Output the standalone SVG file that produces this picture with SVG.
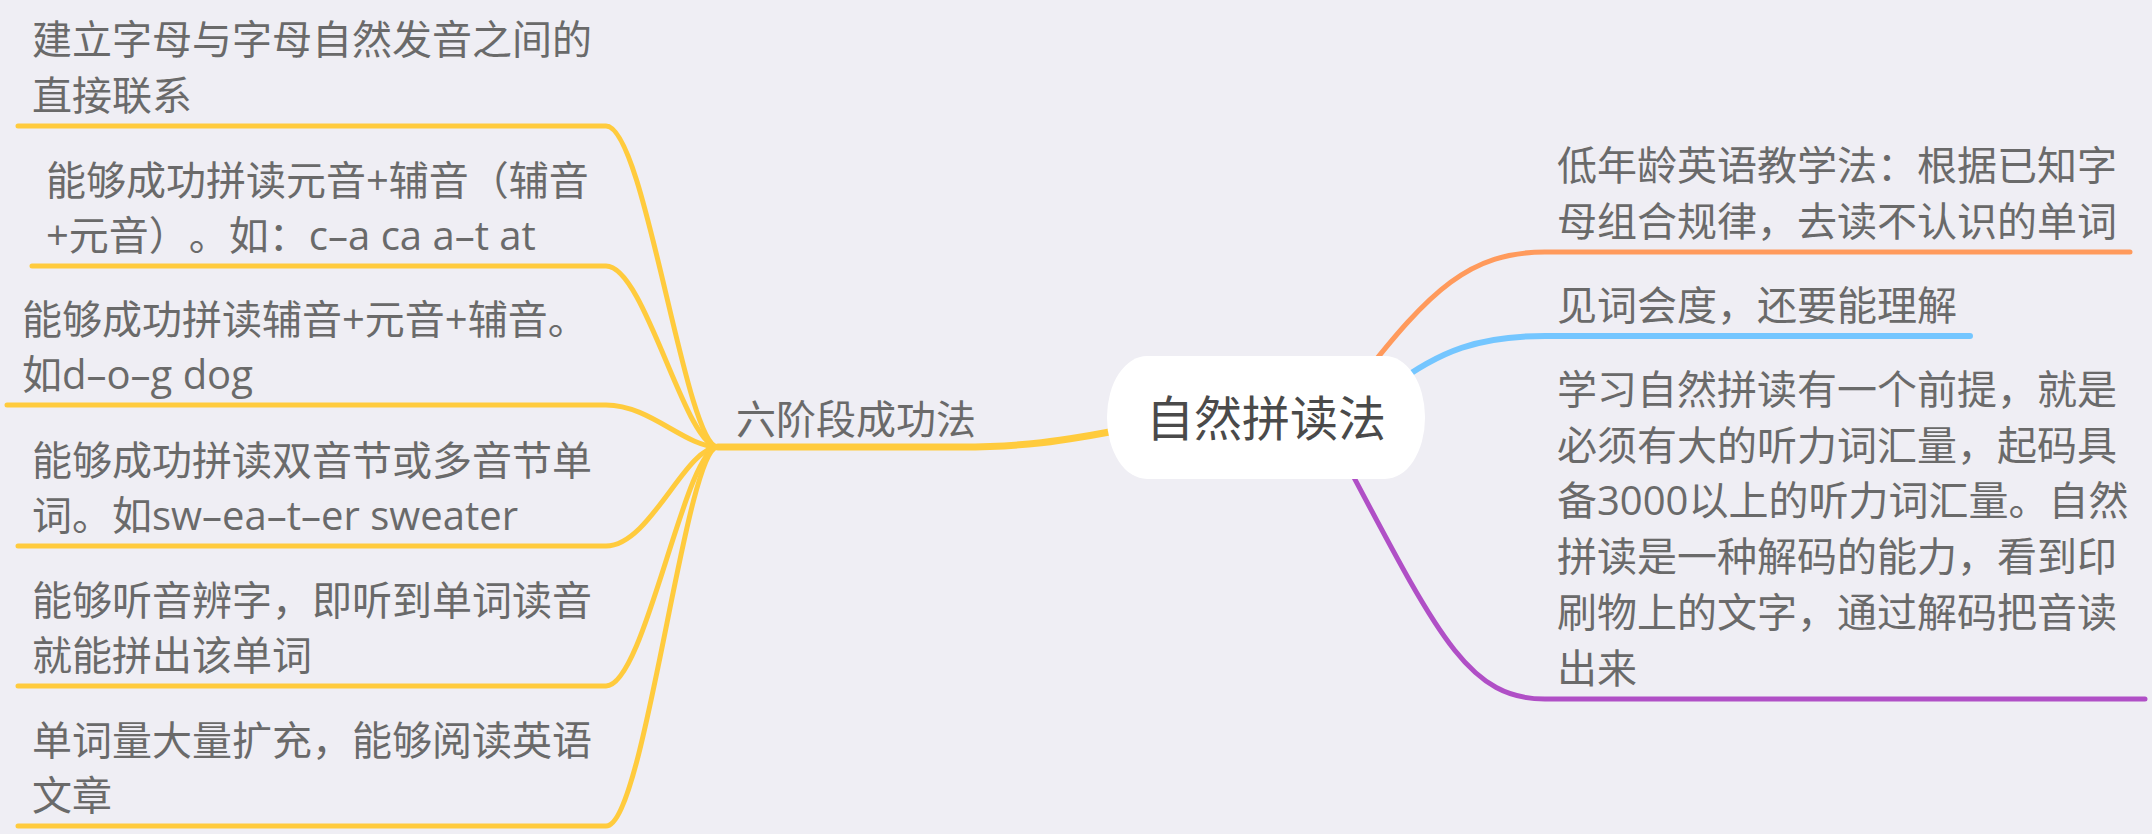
<svg xmlns="http://www.w3.org/2000/svg" width="2152" height="834" viewBox="0 0 2152 834">
<style>
.t{font-family:"Open Sans","Noto Sans CJK SC",sans-serif;font-size:40px;fill:#6a6a6a;text-spacing-trim:space-all}
.c{font-family:"Liberation Sans","Noto Sans CJK SC",sans-serif;font-size:48px;fill:#4a4a4a;text-anchor:middle}
.l{fill:none;stroke-linecap:round;stroke-linejoin:round}
.y{stroke:#FFCB3D;stroke-width:5}
</style>
<rect width="2152" height="834" fill="#EFEEF4"/>
<g id="connectors">
<path class="l y" d="M18 126 L606 126 C645 126 685 447 718 447"/>
<path class="l y" d="M32 266 L606 266 C645 266 685 447 718 447"/>
<path class="l y" d="M7 405 L606 405 C650 405 685 447 718 447"/>
<path class="l y" d="M18 546 L606 546 C650 546 685 447 718 447"/>
<path class="l y" d="M18 686 L606 686 C645 686 685 447 718 447"/>
<path class="l y" d="M18 826 L606 826 C645 826 685 447 718 447"/>
<path class="l" stroke="#FFCB3D" stroke-width="7" d="M718 447 L960 447 C1020 447 1060 442 1130 428"/>
<path class="l" stroke="#FF9A5C" stroke-width="5" d="M1360 380 C1430 290 1470 252 1545 252 L2130 252"/>
<path class="l" stroke="#74C6FF" stroke-width="6" d="M1390 388 C1440 350 1480 336 1545 336 L1970 336"/>
<path class="l" stroke="#B04FC6" stroke-width="5" d="M1350 470 C1440 640 1470 699 1545 699 L2145 699"/>
</g>
<g id="leaf1"><text class="t" x="32" y="54">建立字母与字母自然发音之间的</text><text class="t" x="32" y="110">直接联系</text></g>
<g id="leaf2"><text class="t" x="46" y="195">能够成功拼读元音+辅音（辅音</text><text class="t" x="46" y="250">+元音）。如：c–a ca a–t at</text></g>
<g id="leaf3"><text class="t" x="22" y="334">能够成功拼读辅音+元音+辅音。</text><text class="t" x="22" y="389">如d–o–g dog</text></g>
<g id="leaf4"><text class="t" x="32" y="475">能够成功拼读双音节或多音节单</text><text class="t" x="32" y="530">词。如sw–ea–t–er sweater</text></g>
<g id="leaf5"><text class="t" x="32" y="615">能够听音辨字，即听到单词读音</text><text class="t" x="32" y="670">就能拼出该单词</text></g>
<g id="leaf6"><text class="t" x="32" y="755">单词量大量扩充，能够阅读英语</text><text class="t" x="32" y="810">文章</text></g>
<g id="branch"><text class="t" x="736" y="434">六阶段成功法</text></g>
<g id="right1"><text class="t" x="1557" y="180">低年龄英语教学法：根据已知字</text><text class="t" x="1557" y="236">母组合规律，去读不认识的单词</text></g>
<g id="right2"><text class="t" x="1557" y="320">见词会度，还要能理解</text></g>
<g id="right3">
<text class="t" x="1557" y="404">学习自然拼读有一个前提，就是</text>
<text class="t" x="1557" y="460">必须有大的听力词汇量，起码具</text>
<text class="t" x="1557" y="515">备3000以上的听力词汇量。自然</text>
<text class="t" x="1557" y="571">拼读是一种解码的能力，看到印</text>
<text class="t" x="1557" y="627">刷物上的文字，通过解码把音读</text>
<text class="t" x="1557" y="683">出来</text>
</g>
<g id="center"><rect x="1107" y="356" width="318" height="123" rx="40" ry="61" fill="#FFFFFF"/><text class="c" x="1266" y="436">自然拼读法</text></g>
</svg>
